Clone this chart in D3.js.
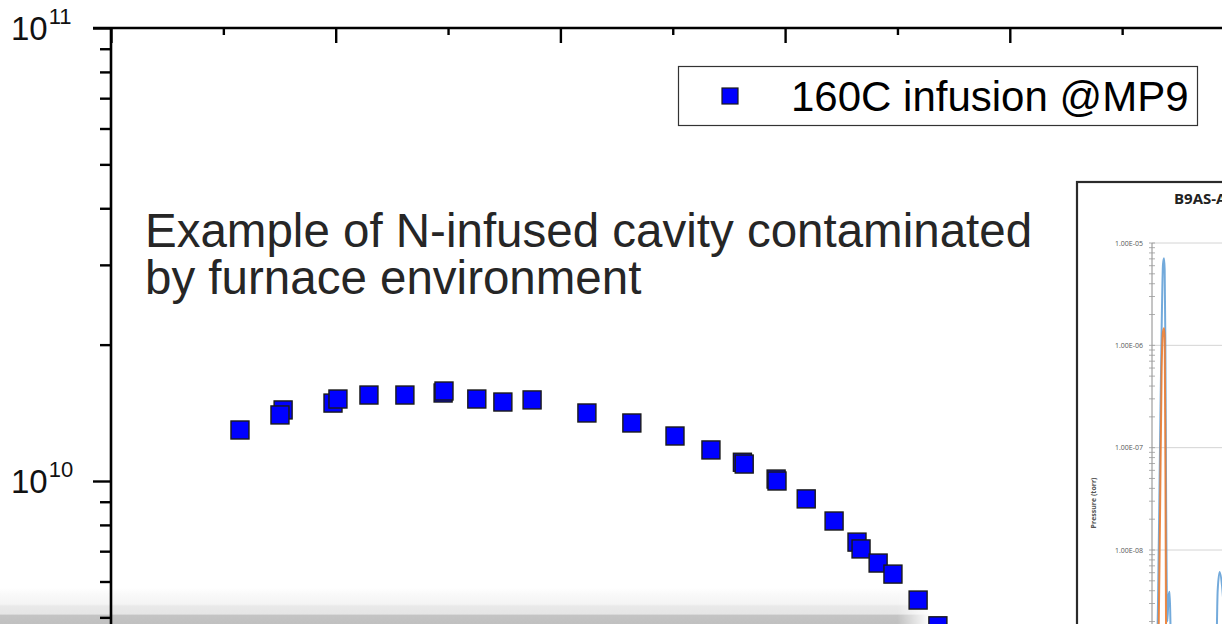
<!DOCTYPE html>
<html>
<head>
<meta charset="utf-8">
<script src="https://cdn.jsdelivr.net/npm/d3@7"></script>
<style>
  html, body { margin: 0; padding: 0; background: #fff; }
  svg { display: block; }
</style>
</head>
<body>
<svg id="chart" width="1222" height="624"></svg>
<script>
// Q0 vs accelerating gradient, 160C N-infusion test at MP9
const eacc = [2.87, 3.83, 3.76, 4.94, 5.05, 5.74, 6.54, 7.39, 7.41, 8.14, 8.72, 9.37,
              10.59, 11.59, 12.55, 13.35, 14.05, 14.09, 14.80, 14.82, 15.47, 16.09,
              16.60, 16.69, 17.07, 17.40, 17.96, 18.40];
const q0 = [1.296e10, 1.435e10, 1.399e10, 1.486e10, 1.517e10, 1.548e10, 1.548e10, 1.564e10,
            1.580e10, 1.517e10, 1.494e10, 1.510e10, 1.413e10, 1.343e10, 1.257e10, 1.171e10,
            1.100e10, 1.090e10, 1.010e10, 1.000e10, 9.13e9, 8.16e9, 7.33e9, 7.08e9,
            6.59e9, 6.23e9, 5.46e9, 4.79e9];
const seriesName = "160C infusion @MP9";
const noteLines = ["Example of N-infused cavity contaminated", "by furnace environment"];

// x ticks (MV/m) and Q0 decade labels
const xMajor = [0, 5, 10, 15, 20, 25];
const xMinor = [2.5, 7.5, 12.5, 17.5, 22.5];
const yMajor = [1e10, 1e11];
const yMinor = [2e9, 3e9, 4e9, 5e9, 6e9, 7e9, 8e9, 9e9,
                2e10, 3e10, 4e10, 5e10, 6e10, 7e10, 8e10, 9e10];

// furnace RGA trace shown in the embedded panel
const rgaTitle = "B9AS-AES-008 furnace RGA";
const rgaTime = [0.0, 0.5, 0.9, 1.2, 1.45, 1.65, 1.8, 1.9, 2.0, 2.12, 2.3, 2.5, 2.65, 2.8, 3.0, 5.0, 9.5, 9.85, 10.15, 10.5, 11.0];
const rgaTotal = [3e-10, 4e-10, 3e-9, 1e-7, 1.5e-6, 6.2e-6, 7.1e-6, 5.5e-6, 1.2e-6, 3e-8, 2e-9, 3.6e-9, 3.9e-9, 1.5e-9, 4e-10, 3e-10, 3e-10, 4e-9, 6.1e-9, 4.5e-9, 1.5e-9];
const rgaPartial = [1e-10, 1e-10, 5e-10, 2e-8, 6e-7, 1.35e-6, 1.47e-6, 1.2e-6, 1e-7, 1e-9, 1e-10, 1e-10, 1e-10, 1e-10, 1e-10, 1e-10, 1e-10, 1e-10, 2e-10, 1.5e-10, 1e-10];
const rgaDecades = [1e-5, 1e-6, 1e-7, 1e-8];
const rgaLabels = ["1.00E-05", "1.00E-06", "1.00E-07", "1.00E-08"];

const svg = d3.select("#chart");
const defs = svg.append("defs");

// ---- soft grey strip along the bottom edge ----
const band = defs.append("linearGradient").attr("id", "bandGrad")
  .attr("x1", 0).attr("y1", 0).attr("x2", 0).attr("y2", 1);
[[0, "#ffffff"], [0.15, "#fafafa"], [0.45, "#f4f4f4"], [0.5, "#e9e9e9"], [0.72, "#e6e6e6"], [0.76, "#c4c4c4"], [1, "#c0c0c0"]]
  .forEach(([o, c]) => band.append("stop").attr("offset", o).attr("stop-color", c));
const fade = defs.append("linearGradient").attr("id", "bandFade")
  .attr("x1", 0).attr("y1", 0).attr("x2", 1).attr("y2", 0);
[[0, "#fff"], [0.965, "#fff"], [1, "#000"]]
  .forEach(([o, c]) => fade.append("stop").attr("offset", o).attr("stop-color", c));
defs.append("mask").attr("id", "bandMask").attr("maskUnits", "userSpaceOnUse")
  .attr("x", 0).attr("y", 585).attr("width", 930).attr("height", 40)
  .append("rect").attr("x", 0).attr("y", 585).attr("width", 930).attr("height", 40)
  .attr("fill", "url(#bandFade)");
svg.append("rect").attr("x", 0).attr("y", 588).attr("width", 930).attr("height", 36)
  .attr("fill", "url(#bandGrad)").attr("mask", "url(#bandMask)");

// ---- scales ----
const x = d3.scaleLinear().domain([0, 25]).range([111, 1234.5]);
const y = d3.scaleLog().domain([1e10, 1e11]).range([481, 28]);

// ---- axes ----
const axisColor = "#000";
const topMajor = svg.append("g").attr("transform", `translate(0,${y(1e11)})`)
  .call(d3.axisBottom(x).tickValues(xMajor).tickSize(15).tickSizeOuter(0).tickFormat(""));
const topMinor = svg.append("g").attr("transform", `translate(0,${y(1e11)})`)
  .call(d3.axisBottom(x).tickValues(xMinor).tickSize(7).tickSizeOuter(0).tickFormat(""));
topMinor.select(".domain").remove();
topMajor.select(".domain").attr("d", `M${x(0) - 18},0H1222`);

const leftMajor = svg.append("g").attr("transform", `translate(${x(0)},0)`)
  .call(d3.axisLeft(y).tickValues(yMajor).tickSize(18).tickSizeOuter(0).tickFormat(""));
const leftMinor = svg.append("g").attr("transform", `translate(${x(0)},0)`)
  .call(d3.axisLeft(y).tickValues(yMinor).tickSize(11).tickSizeOuter(0).tickFormat(""));
leftMinor.select(".domain").remove();
leftMajor.select(".domain").attr("d", `M0,${y(1e11) - 1}V640`);

svg.selectAll(".domain").attr("stroke", axisColor).attr("stroke-width", 2.6);
svg.selectAll(".tick line").attr("stroke", axisColor).attr("stroke-width", 2.4);

// decade labels 10^n
const labs = svg.append("g").attr("font-family", "Arial, 'Liberation Sans', sans-serif")
  .attr("fill", "#111");
yMajor.forEach(v => {
  const t = labs.append("text").attr("x", 11).attr("y", y(v) + 12).attr("font-size", 33);
  t.append("tspan").text("10");
  t.append("tspan").attr("font-size", 22).attr("dy", -16).attr("dx", 1)
    .text(String(Math.round(Math.log10(v))));
});

// ---- annotation ----
const note = svg.append("text").attr("font-family", "Arial, 'Liberation Sans', sans-serif")
  .attr("font-size", 47.5).attr("fill", "#262626");
noteLines.forEach((s, i) => note.append("tspan").attr("x", 145).attr("y", 247 + i * 47).text(s));

// ---- embedded RGA panel ----
const inset = { x0: 1077, y0: 182, x1: 1240, y1: 640 };
defs.append("clipPath").attr("id", "insetClip").append("rect")
  .attr("x", inset.x0).attr("y", inset.y0).attr("width", inset.x1 - inset.x0).attr("height", inset.y1 - inset.y0);
const ig = svg.append("g");
ig.append("rect").attr("x", inset.x0).attr("y", inset.y0)
  .attr("width", inset.x1 - inset.x0).attr("height", inset.y1 - inset.y0)
  .attr("fill", "#fff").attr("stroke", "#2b2b2b").attr("stroke-width", 2.2);
const ic = ig.append("g").attr("clip-path", "url(#insetClip)");
const ix = d3.scaleLinear().domain([0, 60]).range([1152, 1552]);
const iy = d3.scaleLog().domain([1e-8, 1e-5]).range([550, 243]);

ic.append("text").attr("x", 1174).attr("y", 203.5).attr("font-family", "'Open Sans', sans-serif")
  .attr("font-weight", "bold").attr("font-size", 15).attr("fill", "#222").text(rgaTitle);

// gridlines
ic.selectAll("line.grid").data(rgaDecades).join("line").attr("class", "grid")
  .attr("x1", 1152).attr("x2", 1240).attr("y1", d => iy(d)).attr("y2", d => iy(d))
  .attr("stroke", "#d4d4d4").attr("stroke-width", 1);
// axis line and log minor ticks
ic.append("line").attr("x1", 1152).attr("x2", 1152).attr("y1", iy(1e-5)).attr("y2", 640)
  .attr("stroke", "#8a8a8a").attr("stroke-width", 1);
const minorTicks = [];
[1e-9, 1e-8, 1e-7, 1e-6].forEach(b => { for (let k = 1; k <= 9; k++) minorTicks.push(b * k); });
minorTicks.push(1e-5);
ic.selectAll("line.mt").data(minorTicks).join("line").attr("class", "mt")
  .attr("x1", 1149).attr("x2", 1155).attr("y1", d => iy(d)).attr("y2", d => iy(d))
  .attr("stroke", "#9a9a9a").attr("stroke-width", 0.8);
ic.selectAll("text.yl").data(rgaDecades).join("text").attr("class", "yl")
  .attr("x", 1143).attr("y", d => iy(d) + 2.5).attr("text-anchor", "end")
  .attr("font-family", "'Open Sans', sans-serif").attr("font-size", 7).attr("fill", "#555")
  .text((d, i) => rgaLabels[i]);
ic.append("text").attr("transform", "translate(1096,503) rotate(-90)").attr("text-anchor", "middle")
  .attr("font-family", "'Open Sans', sans-serif").attr("font-weight", "bold")
  .attr("font-size", 7).attr("fill", "#555").text("Pressure (torr)");

const lineGen = vals => d3.line().x((d, i) => ix(rgaTime[i])).y(d => iy(d)).curve(d3.curveMonotoneX)(vals);
ic.append("path").attr("d", lineGen(rgaTotal)).attr("fill", "none")
  .attr("stroke", "#5b9bd5").attr("stroke-width", 2).attr("opacity", 0.85);
ic.append("path").attr("d", lineGen(rgaPartial)).attr("fill", "none")
  .attr("stroke", "#ed7d31").attr("stroke-width", 2).attr("opacity", 0.9);

// ---- data points ----
const size = 18;
svg.append("g").selectAll("rect").data(eacc).join("rect")
  .attr("x", (d, i) => x(d) - size / 2).attr("y", (d, i) => y(q0[i]) - size / 2)
  .attr("width", size).attr("height", size)
  .attr("fill", "#0000ff").attr("stroke", "#1a1a1a").attr("stroke-width", 1.4);

// ---- legend ----
const lg = svg.append("g");
lg.append("rect").attr("x", 678.5).attr("y", 66.5).attr("width", 519).attr("height", 59)
  .attr("fill", "#fff").attr("stroke", "#333").attr("stroke-width", 1.2);
lg.append("rect").attr("x", 722).attr("y", 88).attr("width", 16).attr("height", 16)
  .attr("fill", "#0000ff").attr("stroke", "#1a1a1a").attr("stroke-width", 1.2);
lg.append("text").attr("x", 791).attr("y", 111).attr("font-family", "Arial, 'Liberation Sans', sans-serif")
  .attr("font-size", 42).attr("fill", "#000").text(seriesName);
</script>
</body>
</html>
